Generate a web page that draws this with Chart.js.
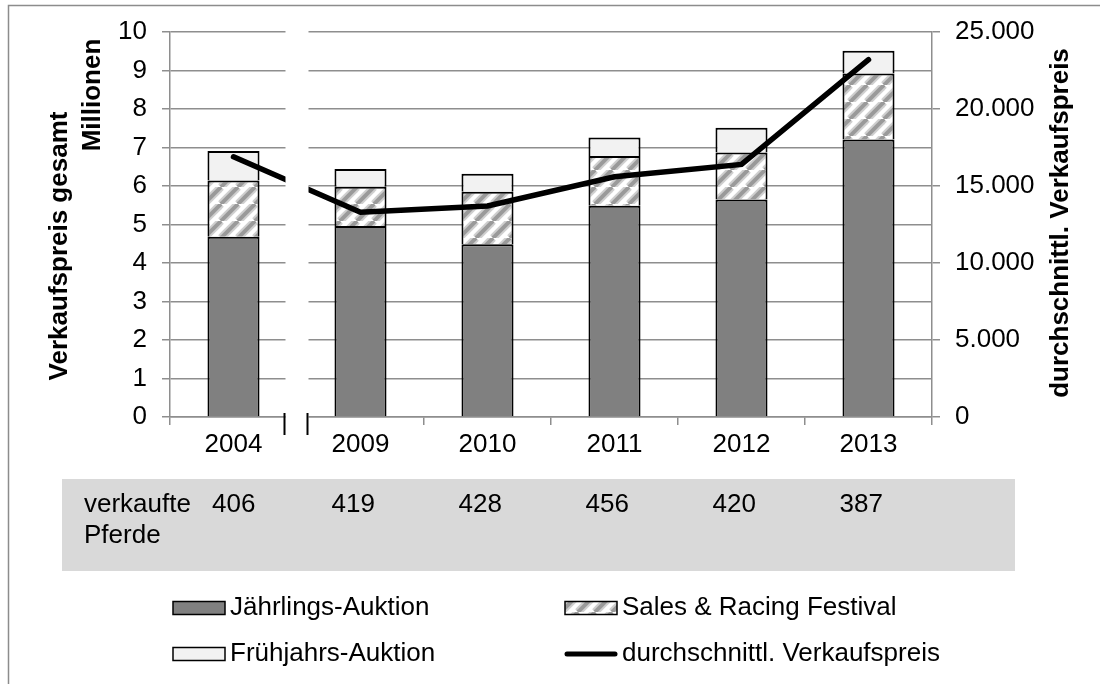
<!DOCTYPE html>
<html>
<head>
<meta charset="utf-8">
<script src="https://cdn.jsdelivr.net/npm/chart.js@4.4.1/dist/chart.umd.min.js"></script>
<style>
  html, body { margin: 0; padding: 0; background: #fff; }
  #wrap { position: relative; width: 1100px; height: 684px; }
</style>
</head>
<body>
<div id="wrap"><canvas id="chart" width="1100" height="684"></canvas></div>
<script>
// data
const years = ['2004', '2009', '2010', '2011', '2012', '2013'];
const jaehrlings = [4.68, 4.96, 4.49, 5.49, 5.65, 7.21];
const salesRacing = [1.46, 1.02, 1.36, 1.29, 1.22, 1.71];
const fruehjahrs = [0.77, 0.46, 0.47, 0.48, 0.64, 0.59];
const avgPrice = [16900, 13300, 13700, 15600, 16400, 23200];
const horsesSold = [406, 419, 428, 456, 420, 387];
const leftTitle = 'Verkaufspreis gesamt';
const leftUnit = 'Millionen';
const rightTitle = 'durchschnittl. Verkaufspreis';
const tableLabel = ['verkaufte', 'Pferde'];

const FONT = '"Liberation Sans", Arial, sans-serif';
const GRID = '#8e8e8e';

const canvas = document.getElementById('chart');
const ctx = canvas.getContext('2d');

function makeHatch() {
  const s = 17;
  const c = document.createElement('canvas');
  c.width = s; c.height = s;
  const g = c.getContext('2d');
  g.fillStyle = '#fff';
  g.fillRect(0, 0, s, s);
  [['#cfcfcf', 8], ['#9a9a9a', 4]].forEach(([col, w]) => {
    g.strokeStyle = col;
    g.lineWidth = w;
    for (const k of [-s, 0, s]) {
      g.beginPath();
      g.moveTo(k, s);
      g.lineTo(k + s, 0);
      g.stroke();
    }
  });
  return ctx.createPattern(c, 'repeat');
}
const hatch = makeHatch();

function fmtThousands(v) {
  return String(v).replace(/\B(?=(\d{3})+(?!\d))/g, '.');
}

const extras = {
  id: 'extras',
  afterDatasetsDraw(chart) {
    const c = chart.ctx;
    const area = chart.chartArea;
    const x = chart.scales.x;
    // axis break between 2004 and 2009
    const mid = (x.getPixelForValue(0) + x.getPixelForValue(1)) / 2;
    c.save();
    c.fillStyle = '#fff';
    c.fillRect(mid - 11.5, area.top - 4, 23, area.bottom - area.top + 14);
    c.strokeStyle = '#000';
    c.lineWidth = 2;
    [mid - 12.5, mid + 10.5].forEach((bx) => {
      c.beginPath();
      c.moveTo(bx, area.bottom - 4);
      c.lineTo(bx, area.bottom + 18);
      c.stroke();
    });
    c.restore();
  },
  afterDraw(chart) {
    const c = chart.ctx;
    const x = chart.scales.x;
    c.save();
    // outer frame
    c.strokeStyle = '#8c8c8c';
    c.lineWidth = 1.5;
    c.strokeRect(8.5, 5.5, 1300, 900);

    // axis titles
    c.fillStyle = '#000';
    c.textAlign = 'center';
    c.textBaseline = 'middle';
    c.font = 'bold 26px ' + FONT;
    [[leftTitle, 60, 246], [leftUnit, 93, 95], [rightTitle, 1061, 223]].forEach(([t, tx, ty]) => {
      c.save();
      c.translate(tx, ty);
      c.rotate(-Math.PI / 2);
      c.fillText(t, 0, 0);
      c.restore();
    });

    // data table band
    c.fillStyle = '#d9d9d9';
    c.fillRect(62, 479, 953, 92);
    c.fillStyle = '#000';
    c.font = '26px ' + FONT;
    c.textAlign = 'left';
    c.fillText(tableLabel[0], 84, 505);
    c.fillText(tableLabel[1], 84, 536);
    horsesSold.forEach((n, i) => {
      const px = i === 0 ? 212 : x.getPixelForValue(i) - 29;
      c.fillText(String(n), px, 505);
    });

    // legend
    const ds = chart.data.datasets;
    const slots = [[173, 608], [565, 608], [173, 654], [565, 654]];
    ds.forEach((d, i) => {
      const [lx, ly] = slots[i];
      if (d.type === 'line') {
        c.strokeStyle = '#000';
        c.lineWidth = 5;
        c.lineCap = 'round';
        c.beginPath();
        c.moveTo(lx + 2, ly);
        c.lineTo(lx + 50, ly);
        c.stroke();
      } else {
        c.fillStyle = d.backgroundColor;
        c.fillRect(lx, ly - 6.5, 52, 13);
        c.strokeStyle = '#000';
        c.lineWidth = 1.5;
        c.strokeRect(lx, ly - 6.5, 52, 13);
      }
      c.fillStyle = '#000';
      c.fillText(d.label, lx + 57, ly);
    });
    c.restore();
  }
};

const barCommon = {
  borderColor: '#000',
  borderWidth: 2,
  categoryPercentage: 1,
  barPercentage: 0.41,
  stack: 'total',
  order: 1,
};

new Chart(canvas, {
  type: 'bar',
  data: {
    labels: years,
    datasets: [
      { ...barCommon, label: 'Jährlings-Auktion', data: jaehrlings, backgroundColor: '#808080' },
      { ...barCommon, label: 'Sales & Racing Festival', data: salesRacing, backgroundColor: hatch },
      { ...barCommon, label: 'Frühjahrs-Auktion', data: fruehjahrs, backgroundColor: '#f2f2f2' },
      {
        type: 'line',
        label: 'durchschnittl. Verkaufspreis',
        data: avgPrice,
        yAxisID: 'y1',
        borderColor: '#000',
        borderWidth: 5.5,
        borderCapStyle: 'round',
        pointRadius: 0,
        tension: 0,
        order: 0,
      },
    ],
  },
  options: {
    responsive: false,
    animation: false,
    layout: { padding: { top: 32, left: 0, right: 0, bottom: 0 } },
    font: { family: FONT },
    plugins: {
      legend: { display: false },
      tooltip: { enabled: false },
    },
    scales: {
      x: {
        stacked: true,
        afterFit: (s) => { s.height = 267; },
        grid: { offset: true, drawOnChartArea: false, tickLength: 8, color: GRID, lineWidth: 1.5 },
        border: { color: GRID, width: 1.5 },
        ticks: { color: '#000', font: { family: FONT, size: 26 }, padding: 4 },
      },
      y: {
        stacked: true,
        min: 0,
        max: 10,
        afterFit: (s) => { s.width = 170; },
        grid: { color: GRID, lineWidth: 1.5, tickLength: 8 },
        border: { color: GRID, width: 1.5 },
        ticks: { stepSize: 1, color: '#000', font: { family: FONT, size: 26 }, padding: 15 },
      },
      y1: {
        position: 'right',
        min: 0,
        max: 25000,
        afterFit: (s) => { s.width = 168; },
        grid: { drawOnChartArea: false, color: GRID, lineWidth: 1.5, tickLength: 8 },
        border: { color: GRID, width: 1.5 },
        ticks: {
          stepSize: 5000,
          color: '#000',
          font: { family: FONT, size: 26 },
          padding: 15,
          callback: (v) => fmtThousands(v),
        },
      },
    },
  },
  plugins: [extras],
});
</script>
</body>
</html>
